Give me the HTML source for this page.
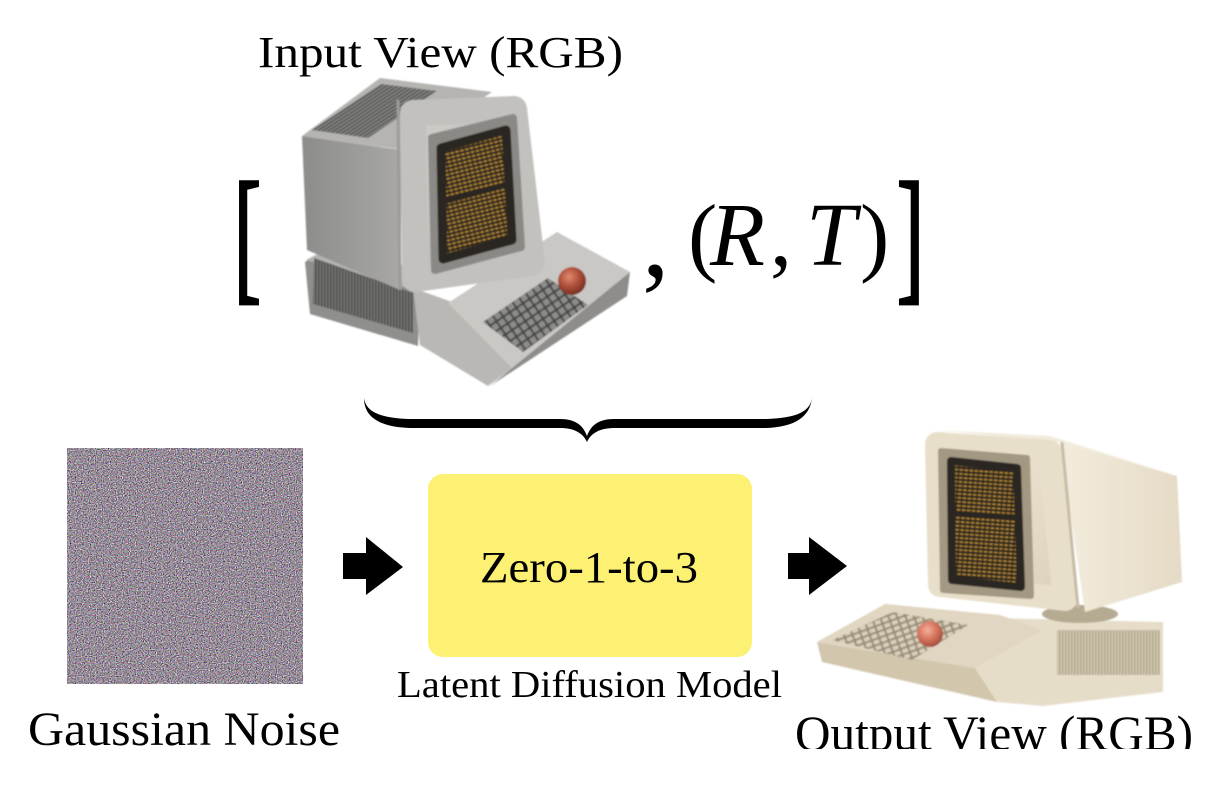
<!DOCTYPE html>
<html>
<head>
<meta charset="utf-8">
<style>
  html, body { margin:0; padding:0; background:#ffffff; }
  body { width:1224px; height:792px; overflow:hidden; }
  svg { display:block; }
  text { font-family: "Liberation Serif", "DejaVu Serif", serif; fill:#000; }
</style>
</head>
<body>
<svg width="1224" height="792" viewBox="0 0 1224 792" xmlns="http://www.w3.org/2000/svg">
  <defs>
    <filter id="nz" x="0" y="0" width="100%" height="100%" color-interpolation-filters="sRGB">
      <feTurbulence type="fractalNoise" baseFrequency="0.85" numOctaves="1" seed="7" result="t"/>
      <feColorMatrix type="matrix" values="1.35 0.4 0.4 0 -0.49  0.4 1.35 0.4 0 -0.53  0.4 0.4 1.35 0 -0.48  0 0 0 0 1"/>
    </filter>
    <filter id="soft" x="-5%" y="-5%" width="110%" height="110%">
      <feGaussianBlur stdDeviation="0.7"/>
    </filter>
    <pattern id="txt1" width="5" height="4" patternUnits="userSpaceOnUse" patternTransform="rotate(-14)">
      <rect width="5" height="4" fill="#2b2720"/>
      <rect x="0" y="1" width="3.5" height="1.6" fill="#b98a34"/>
    </pattern>
    <pattern id="txt2" width="5" height="4" patternUnits="userSpaceOnUse" patternTransform="rotate(4)">
      <rect width="5" height="4" fill="#2a2520"/>
      <rect x="0" y="1" width="3.5" height="1.4" fill="#c39236"/>
    </pattern>
    <pattern id="hgr1" width="6" height="3" patternUnits="userSpaceOnUse" patternTransform="rotate(-33)">
      <rect width="6" height="3" fill="#8a8a88"/>
      <rect width="6" height="1.5" fill="#4e4e4d"/>
    </pattern>
    <pattern id="vgr1" width="3" height="6" patternUnits="userSpaceOnUse" patternTransform="skewY(20)">
      <rect width="3" height="6" fill="#7a7a78"/>
      <rect width="1.5" height="6" fill="#474746"/>
    </pattern>
    <pattern id="vgr2" width="3" height="6" patternUnits="userSpaceOnUse">
      <rect width="3" height="6" fill="#d8cdb5"/>
      <rect width="1.4" height="6" fill="#a89d86"/>
    </pattern>
    <pattern id="keys1" width="8" height="8" patternUnits="userSpaceOnUse" patternTransform="rotate(-34)">
      <rect width="8" height="8" fill="#4a4a48"/>
      <rect x="1" y="1" width="6" height="6" rx="1" fill="#8d8c89"/>
    </pattern>
    <pattern id="keys2" width="8" height="6" patternUnits="userSpaceOnUse" patternTransform="rotate(-20)">
      <rect width="8" height="6" fill="#9a8f7a"/>
      <rect x="1" y="1" width="6" height="4" rx="1" fill="#d9cfba"/>
    </pattern>
    <radialGradient id="ball1" cx="0.4" cy="0.35" r="0.7">
      <stop offset="0" stop-color="#e08a70"/>
      <stop offset="0.5" stop-color="#b0503a"/>
      <stop offset="1" stop-color="#6e2a1e"/>
    </radialGradient>
    <radialGradient id="ball2" cx="0.4" cy="0.35" r="0.7">
      <stop offset="0" stop-color="#f4b09a"/>
      <stop offset="0.5" stop-color="#d87560"/>
      <stop offset="1" stop-color="#9a4a38"/>
    </radialGradient>
    <linearGradient id="side1" x1="0" y1="0" x2="1" y2="0">
      <stop offset="0" stop-color="#8c8c8a"/>
      <stop offset="1" stop-color="#a9a8a5"/>
    </linearGradient>
    <linearGradient id="bez1" x1="0" y1="0" x2="1" y2="1">
      <stop offset="0" stop-color="#cfceca"/>
      <stop offset="1" stop-color="#b3b2ae"/>
    </linearGradient>
    <linearGradient id="side2" x1="0" y1="0" x2="1" y2="0">
      <stop offset="0" stop-color="#f3ecdd"/>
      <stop offset="1" stop-color="#e4dac5"/>
    </linearGradient>
    <linearGradient id="bez2" x1="0" y1="0" x2="1" y2="1">
      <stop offset="0" stop-color="#f1e9d8"/>
      <stop offset="1" stop-color="#dcd1bb"/>
    </linearGradient>
    <clipPath id="clipOut"><rect x="0" y="0" width="1224" height="749"/></clipPath>
  </defs>

  <!-- Title -->
  <text x="258" y="67" font-size="44" textLength="365" lengthAdjust="spacingAndGlyphs">Input View (RGB)</text>

  <!-- Brackets -->
  <g transform="translate(234,284) scale(0.55,1)">
    <text x="0" y="0" font-size="147" stroke="#000" stroke-width="3.5">[</text>
  </g>
  <g transform="translate(897,284) scale(0.55,1)">
    <text x="0" y="0" font-size="147" stroke="#000" stroke-width="3.5">]</text>
  </g>

  <!-- Computer 1 (gray, input view) -->
  <g filter="url(#soft)">
    <polygon points="305,262 332,246 420,282 418,346 310,314" fill="#8f8f8d"/>
    <polygon points="306,260 333,246 400,262 414,290" fill="#b4b3b0"/>
    <polygon points="314,258 413,293 413,333 313,304" fill="url(#vgr1)"/>
    <polygon points="413,288 455,303 512,368 488,386 420,345" fill="#b9b8b4"/>
    <polygon points="448,303 557,232 630,272 512,368" fill="#c9c8c4"/>
    <polygon points="512,368 630,272 627,296 490,386" fill="#8e8d8a"/>
    <polygon points="483,322 548,278 588,305 523,352" fill="url(#keys1)"/>
    <circle cx="572" cy="281" r="14" fill="url(#ball1)"/>
    <polygon points="302,136 402,150 400,290 307,250" fill="url(#side1)"/>
    <polygon points="302,136 380,78 492,92 405,150" fill="#b5b4b1"/>
    <polygon points="312,130 381,84 437,91 368,138" fill="url(#hgr1)"/>
    <polygon points="413,113 514,109 532,263 415,279" fill="url(#bez1)" stroke="#c2c1bd" stroke-width="26" stroke-linejoin="round"/>
    <line x1="398" y1="100" x2="400" y2="290" stroke="#9c9b98" stroke-width="3"/>
    <polygon points="432,138 513,118 521,247 435,270" fill="#8a8985" stroke="#8a8985" stroke-width="8" stroke-linejoin="round"/>
    <polygon points="441,148 506,130 512,240 443,259" fill="url(#txt1)" stroke="#2b2720" stroke-width="9" stroke-linejoin="round"/>
    <line x1="440" y1="203" x2="512" y2="184" stroke="#2b2720" stroke-width="5"/>
  </g>

  <!-- comma and (R, T) -->
  <text x="642" y="276" font-size="110">,</text>
  <text x="688" y="265" font-size="88">(</text>
  <text x="710" y="265" font-size="90" font-style="italic">R</text>
  <text x="770" y="265" font-size="88">,</text>
  <text x="806" y="265" font-size="90" font-style="italic">T</text>
  <text x="860" y="265" font-size="88">)</text>

  <!-- Curly brace -->
  <path d="M364,398 C366,412 380,418 410,419 L560,419 C575,419 583,425 587,436 C591,425 599,419 614,419 L766,419 C796,418 810,412 812,398 C810,416 796,427 766,428 L615,428 C600,428 591,433 587,442 C583,433 574,428 560,428 L410,428 C378,427 364,416 364,398 Z" fill="#000"/>

  <!-- Gaussian noise -->
  <rect x="67" y="448" width="236" height="236" filter="url(#nz)"/>
  <text x="28" y="745" font-size="48" textLength="312" lengthAdjust="spacingAndGlyphs">Gaussian Noise</text>

  <!-- Arrow 1 -->
  <polygon points="343,553 366,553 366,537 403,567 366,595 366,579 343,579" fill="#000"/>

  <!-- Yellow box -->
  <rect x="428" y="474" width="324" height="183" rx="15" ry="15" fill="#fcf173"/>
  <text x="480" y="582" font-size="44" textLength="218" lengthAdjust="spacingAndGlyphs">Zero-1-to-3</text>
  <text x="397" y="697" font-size="38" textLength="385" lengthAdjust="spacingAndGlyphs">Latent Diffusion Model</text>

  <!-- Arrow 2 -->
  <polygon points="788,553 809,553 809,537 847,566 809,595 809,579 788,579" fill="#000"/>

  <!-- Computer 2 (cream, output view) -->
  <g filter="url(#soft)">
    <polygon points="995,618 1163,622 1163,692 1043,706 997,702 975,668" fill="#e6ddc9"/>
    <rect x="1057" y="630" width="103" height="45" fill="url(#vgr2)"/>
    <polygon points="817,642 975,668 997,702 822,662" fill="#d2c6ad"/>
    <polygon points="817,642 885,604 1000,615 1043,630 975,668" fill="#e0d6c1"/>
    <polygon points="832,640 893,612 968,625 912,660" fill="url(#keys2)"/>
    <circle cx="930" cy="634" r="13" fill="url(#ball2)"/>
    <ellipse cx="1080" cy="614" rx="38" ry="9" fill="#b5aa92"/>
    <polygon points="1060,442 1177,476 1182,582 1085,612" fill="url(#side2)"/>
    <polygon points="935,430 1050,436 1177,476 1060,442" fill="#f2ebdc"/>
    <polygon points="937,444 1050,452 1065,599 940,585" fill="url(#bez2)" stroke="#e8dfcb" stroke-width="24" stroke-linejoin="round"/>
    <line x1="1062" y1="442" x2="1078" y2="608" stroke="#c7bba3" stroke-width="3"/>
    <polygon points="941,451 1027,458 1031,596 943,590" fill="#a39882" stroke="#a39882" stroke-width="6" stroke-linejoin="round"/>
    <polygon points="951,461 1017,468 1021,587 952,580" fill="url(#txt2)" stroke="#2a2520" stroke-width="8" stroke-linejoin="round"/>
    <line x1="950" y1="513" x2="1020" y2="517" stroke="#2a2520" stroke-width="5"/>
  </g>

  <!-- Output label (clipped at bottom like reference) -->
  <g clip-path="url(#clipOut)">
    <text x="795" y="750" font-size="50" textLength="398" lengthAdjust="spacingAndGlyphs">Output View (RGB)</text>
  </g>
</svg>
</body>
</html>
